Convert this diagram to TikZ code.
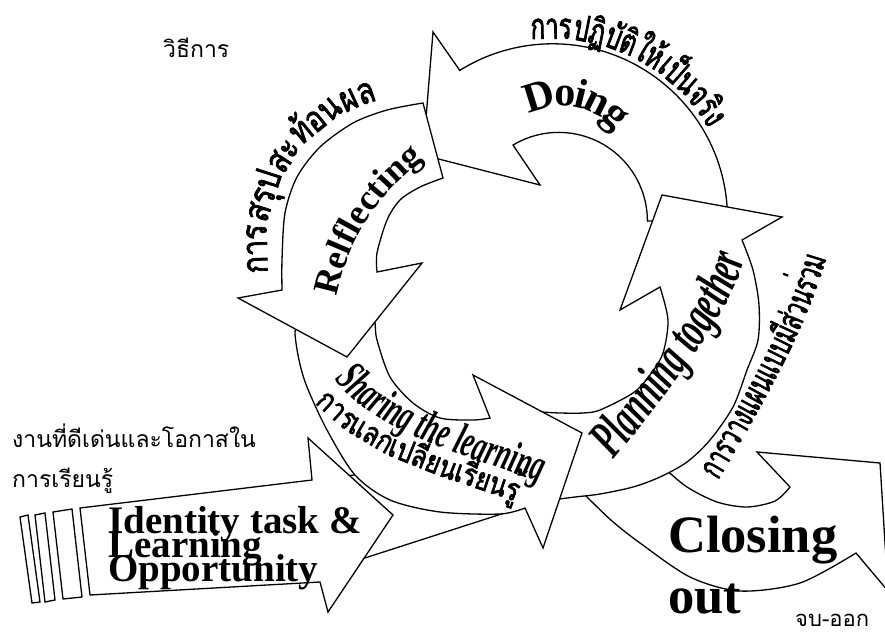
\documentclass[tikz,border=0pt]{standalone}
\usepackage{fontspec}
\usetikzlibrary{decorations.text}

\newfontfamily\thaifont[Script=Thai]{Loma}
\newfontfamily\thaibold[Script=Thai,FakeStretch=0.8,FakeBold=2]{Loma}
\newfontfamily\thaitall[Script=Thai,FakeStretch=0.67,FakeBold=2]{Loma}
\newfontfamily\thainarrow[Script=Thai,FakeStretch=0.62,FakeBold=2]{Loma}
\newfontfamily\timesfont{Liberation Serif}
\newfontfamily\narrowfont[FakeStretch=0.6]{Liberation Serif}

\tikzset{
  arrowshape/.style={draw=black, fill=white, line width=1.3pt, line join=miter},
  thailabel/.style={inner sep=0pt, anchor=base west, font=\thaifont\fontsize{23}{28}\selectfont},
  bigtext/.style={inner sep=0pt, anchor=base west, font=\timesfont\bfseries\fontsize{39}{39}\selectfont},
  closetext/.style={inner sep=0pt, anchor=base west, font=\timesfont\bfseries\fontsize{52.5}{52.5}\selectfont},
  curvetext/.style={decorate, decoration={text along path, text align=center, text={#1}}},
}

\begin{document}
\begin{tikzpicture}[x=1pt,y=-1pt]
  \useasboundingbox (0,0) rectangle (885,634);

  % closing out
  \filldraw[arrowshape] (650,455) -- (575,485)
    -- plot[smooth] coordinates {(575,485) (587,497) (612,521) (640,543) (690,577) (740,591) (800,583) (856,553)}
    -- (888,591) -- (880,463) -- (757,452) -- (790,487)
    -- plot[smooth] coordinates {(790,487) (775,501) (747,507) (717,502) (687,487) (663,467) (650,455)}
    -- cycle;

  % doing
  \filldraw[arrowshape] ([shift={(552.5,218.8)}]0:175) arc[start angle=0, end angle=-122, radius=175]
    -- (433,32) -- (423,155) -- (540,185)
    -- ([shift={(558.7,221.1)}]-121:88.7) arc[start angle=-121, end angle=0, radius=88.7]
    -- cycle;

  % planning together
  \filldraw[arrowshape] (662,195) -- (782,217) -- (742,240)
    -- plot[smooth] coordinates {(742,240) (753,270) (759,305) (758,340) (747,370) (733,407) (710,440) (687,462) (660,477) (633,487) (600,494) (575,497) (552,500)}
    -- (542,412)
    -- plot[smooth] coordinates {(542,412) (560,413) (583,413) (600,410) (633,393) (650,375) (663,353) (668,320) (660,287)}
    -- (620,310) -- cycle;

  % long arrow behind identity
  \filldraw[arrowshape] (320,479) -- (430,466) -- (520,500) -- (520,508) -- (340,566) -- cycle;

  % sharing the learning
  \filldraw[arrowshape] (300,320)
    -- plot[smooth] coordinates {(300,320) (295,332) (299,360) (307,387) (327,430) (355,475) (390,500) (440,512) (500,514) (525,508)}
    -- (543,548) -- (582,433) -- (473,375) -- (490,418)
    -- plot[smooth] coordinates {(490,418) (473,420) (440,418) (413,403) (390,377) (377,340) (375,323) (372,312)}
    -- cycle;

  % reflecting
  \filldraw[arrowshape] (423,103)
    -- plot[smooth] coordinates {(423,103) (387,110) (353,123) (320,147) (297,177) (285,213) (282,260) (282,290)}
    -- (238,298) -- (347,357) -- (422,263) -- (377,272)
    -- plot[smooth] coordinates {(377,272) (377,253) (387,220) (400,200) (420,187) (443,178)}
    -- cycle;

  % identity task
  \filldraw[arrowshape] (80,508) -- (312,480) -- (308,438) -- (393,515) -- (328,612) -- (320,582) -- (90,595) -- cycle;
  \filldraw[arrowshape] (20,517) -- (28,515) -- (40,602) -- (32,603) -- cycle;
  \filldraw[arrowshape] (35,515) -- (45,513) -- (55,600) -- (45,602) -- cycle;
  \filldraw[arrowshape] (53,512) -- (72,509) -- (82,597) -- (63,599) -- cycle;

  % curved labels
  \path[curvetext={|\timesfont\bfseries\fontsize{42}{42}\selectfont|Doing}, decoration={raise=-12pt}]
    ([shift={(563,172)}]-169:78) arc[start angle=-169, end angle=11, radius=78];
  \path[curvetext={|\timesfont\bfseries\fontsize{36}{36}\selectfont|Relflecting}]
    ([shift={(553,338)}]-237.5:220) arc[start angle=-237.5, end angle=-57.5, radius=220];
  \path[curvetext={|\narrowfont\bfseries\itshape\fontsize{45}{45}\selectfont|Sharing the learning}]
    (335,380) .. controls (375,430) and (460,455) .. (540,482);
  \path[curvetext={|\narrowfont\bfseries\itshape\fontsize{54}{54}\selectfont|Planning together}]
    (612,462) .. controls (657,408) and (736,309) .. (745,255);

  \path[curvetext={|\thaitall\fontsize{36}{36}\selectfont|{การ}{ปฏิ}{บัติ}{ให้}{เป็น}{จริง}}]
    ([shift={(552.5,218.8)}]-153.5:180) arc[start angle=-153.5, end angle=26.5, radius=180];
  \path[curvetext={|\thaibold\fontsize{36}{36}\selectfont|{การ}{สรุป}{สะ}{ท้อน}{ผล}}]
    ([shift={(417,245)}]-238:150) arc[start angle=-238, end angle=-58, radius=150];
  \path[curvetext={|\thainarrow\fontsize{35}{35}\selectfont|{การ}{วาง}{แผน}{แบบ}{มี}{ส่วน}{ร่วม}}]
    (711,492) .. controls (754,420) and (809,328) .. (830,245);
  \path[curvetext={|\thaibold\fontsize{31}{31}\selectfont|{การ}{แลก}{เปลี่ยน}{เรียน}{รู้}}]
    (305,388) .. controls (350,458) and (465,481) .. (532,508);

  % straight labels
  \node[bigtext] (idline1) at (108,533) {Identity task \&};
  \node[bigtext] (idline2) at (108,557) {Learning};
  \node[bigtext] (idline3) at (108,581) {Opportunity};
  \node[closetext] (closeline1) at (668,552) {Closing};
  \node[closetext] (closeline2) at (668,613) {out};

  \node[thailabel] (method) at (163,58) {วิธีการ};
  \node[thailabel] (task1) at (12,447) {งานที่ดีเด่นและโอกาสใน};
  \node[thailabel] (task2) at (12,487) {การเรียนรู้};
  \node[thailabel, font=\thaifont\fontsize{22}{26}\selectfont] (finish) at (795,626) {จบ-ออก};
\end{tikzpicture}
\end{document}
